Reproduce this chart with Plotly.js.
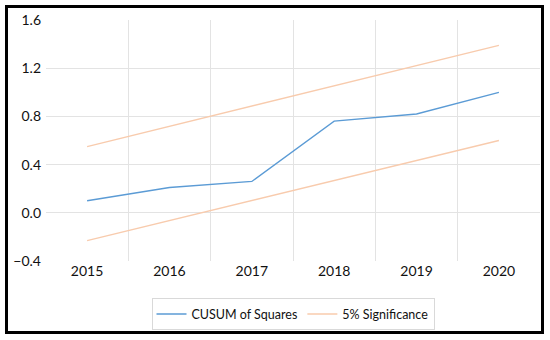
<!DOCTYPE html>
<html>
<head>
<meta charset="utf-8">
<script src="https://cdn.plot.ly/plotly-3.0.1.min.js"></script>
<style>
html,body{margin:0;padding:0;background:#fff;}
#wrap{position:relative;width:550px;height:340px;}
#chart{position:absolute;left:0;top:0;width:550px;height:340px;}
#frame{position:absolute;left:5px;top:5px;width:533px;height:323px;border:3px solid #000;pointer-events:none;}
</style>
</head>
<body>
<div id="wrap"><div id="chart"></div><div id="frame"></div></div>
<script>
var years = ['2015','2016','2017','2018','2019','2020'];
var cusumSq = [0.10, 0.21, 0.26, 0.76, 0.82, 1.00];
var upperBound = [0.55, 0.718, 0.886, 1.054, 1.222, 1.39];
var lowerBound = [-0.23, -0.064, 0.102, 0.268, 0.434, 0.60];
var yTicks = [-0.4, 0.0, 0.4, 0.8, 1.2, 1.6];
var yTickText = ['\u22120.4', '0.0', '0.4', '0.8', '1.2', '1.6'];

var blue = '#5B9BD5';
var orange = '#F8CBAD';

var traces = [
  {x: years, y: cusumSq, type: 'scatter', mode: 'lines', name: 'CUSUM of Squares',
   line: {color: blue, width: 1.3}},
  {x: years, y: upperBound, type: 'scatter', mode: 'lines', name: '5% Significance',
   line: {color: orange, width: 1.3}, legendgroup: 'sig'},
  {x: years, y: lowerBound, type: 'scatter', mode: 'lines', name: '5% Significance',
   line: {color: orange, width: 1.3}, legendgroup: 'sig', showlegend: false}
];

var layout = {
  width: 550, height: 340,
  margin: {l: 46, r: 10, t: 20, b: 74},
  paper_bgcolor: '#fff', plot_bgcolor: '#fff',
  font: {family: 'Lato, "Open Sans", sans-serif', size: 14, color: '#111'},
  showlegend: true,
  legend: {orientation: 'h', x: 0.5, xanchor: 'center', y: -0.155, yanchor: 'top',
           bordercolor: '#d9d9d9', borderwidth: 1, font: {size: 12.5, color: '#111'},
           itemwidth: 30, tracegroupgap: 0},
  xaxis: {type: 'category', range: [-0.499, 5.499], tickson: 'boundaries',
          showgrid: true, gridcolor: '#e3e3e3', gridwidth: 1,
          ticks: 'outside', ticklen: 4, tickcolor: 'rgba(0,0,0,0)',
          showline: false, zeroline: false, tickfont: {size: 14}},
  yaxis: {range: [-0.4, 1.6], tickvals: yTicks, ticktext: yTickText,
          showgrid: true, gridcolor: '#e3e3e3', gridwidth: 1, zeroline: false,
          showline: false, ticks: '', ticklabelstandoff: 4, tickfont: {size: 14}}
};

Plotly.newPlot('chart', traces, layout, {displayModeBar: false, staticPlot: true});
</script>
</body>
</html>
